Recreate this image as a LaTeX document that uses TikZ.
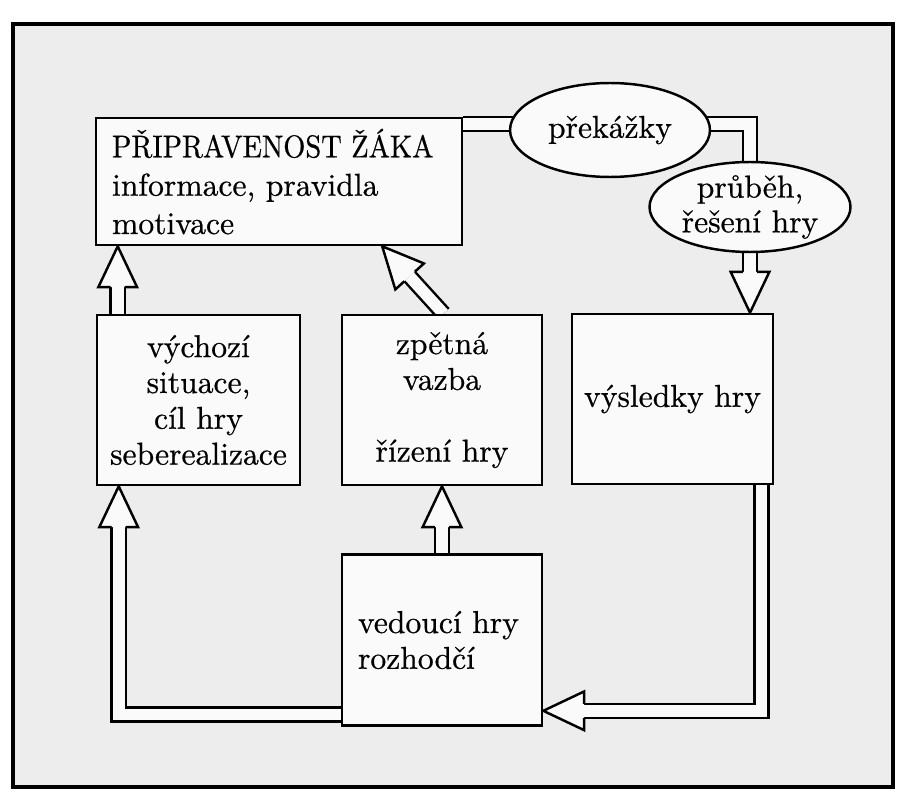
\documentclass[tikz,border=0pt]{standalone}
\usepackage{fontspec}
\usepackage{graphicx}
\setmainfont{lmroman10-regular.otf}[FakeBold=0.6]
\usetikzlibrary{positioning,calc,shapes.geometric,backgrounds}
\tikzset{box/.style={draw,line width=1.5pt,fill=gray!4,inner sep=0pt,font=\fontsize{18}{20.4}\selectfont},
         oval/.style={ellipse,draw,line width=1.4pt,fill=gray!4,inner sep=0pt,align=center,font=\fontsize{18}{19.8}\selectfont},
         dbl/.style={draw=black,line width=1.4pt,double=gray!4,double distance=6.6pt,line join=miter},
         hd/.style={line width=1.4pt,fill=gray!4,line join=miter}
}
\newcommand{\hollow}[3]{%
  \path ($(#3)!23.2pt!(#2)$) coordinate (nk);
  \draw[dbl] #1 -- (nk);
  \filldraw[hd] ($(nk)!4pt!90:(#3)$) -- ($(nk)!11pt!90:(#3)$) -- (#3)
     -- ($(nk)!11pt!-90:(#3)$) -- ($(nk)!4pt!-90:(#3)$);
}

\begin{document}
\begin{tikzpicture}[x=0.02cm,y=-0.02cm]
   \useasboundingbox (0,0) rectangle (911,807);
   \node[box, minimum width=7.32cm, minimum height=2.54cm, text width=6.68cm, inner xsep=0.32cm, align=left,
         font=\fontsize{18}{21.8}\selectfont] (prip) at (279,181.5)
      {\scalebox{0.9}[1]{PŘIPRAVENOST ŽÁKA}\\ informace, pravidla\\ motivace};
   \node[box, minimum width=4.06cm, minimum height=3.4cm, align=center] (vych) at (198.5,400)
      {výchozí\\ situace,\\ cíl hry\\ seberealizace};
   \node[box, minimum width=4cm, minimum height=3.4cm, align=center] (zpet) at (442,400)
      {zpětná\\ vazba\\[20.4pt] řízení hry};
   \node[box, minimum width=4.02cm, minimum height=3.4cm] (vysl) at (672.5,399) {výsledky hry};
   \node[box, minimum width=4cm, minimum height=3.42cm, text width=3.36cm, inner xsep=0.32cm, align=left] (ved) at (442,640)
      {vedoucí hry\\ rozhodčí};
   \node[oval, minimum width=4cm, minimum height=1.88cm] (prek) at (610,130) {překážky};
   \node[oval, minimum width=4.02cm, minimum height=1.8cm] (prub) at (750,207) {průběh,\\ řešení hry};

   \begin{pgfonlayer}{background}
   \draw[line width=2pt, fill=gray!14] (13,24) rectangle (893,787);
   \coordinate (s1) at ($(prip.north east)+(0,7.5)$);
   \draw[dbl] (s1) -- (s1 -| prub.center) -- (prub.center);
   \coordinate (t1) at (vysl.north -| prub.center);
   \hollow{(prub.center)}{prub.center}{t1}
   \coordinate (s2) at ($(vych.north west)+(22,0)$);
   \coordinate (t2) at (s2 |- prip.south);
   \hollow{(s2)}{s2}{t2}
   \coordinate (s3) at ($(zpet.north)+(1.5,0)$);
   \coordinate (t3) at ($(prip.south)!0.56!(prip.south east)$);
   \hollow{(s3)}{s3}{t3}
   \coordinate (s4) at (ved.north);
   \coordinate (t4) at (s4 |- zpet.south);
   \hollow{(s4)}{s4}{t4}
   \coordinate (s5) at ($(ved.south west)+(0,-12.5)$);
   \coordinate (t5) at ($(vych.south west)+(23,0)$);
   \coordinate (c5) at (t5 |- s5);
   \hollow{(s5) -- (c5)}{c5}{t5}
   \coordinate (s6) at ($(vysl.south east)+(-13,0)$);
   \coordinate (t6) at ($(ved.south east)+(0,-16)$);
   \coordinate (c6) at (s6 |- t6);
   \hollow{(s6) -- (c6)}{c6}{t6}
   \end{pgfonlayer}
\end{tikzpicture}
\end{document}
